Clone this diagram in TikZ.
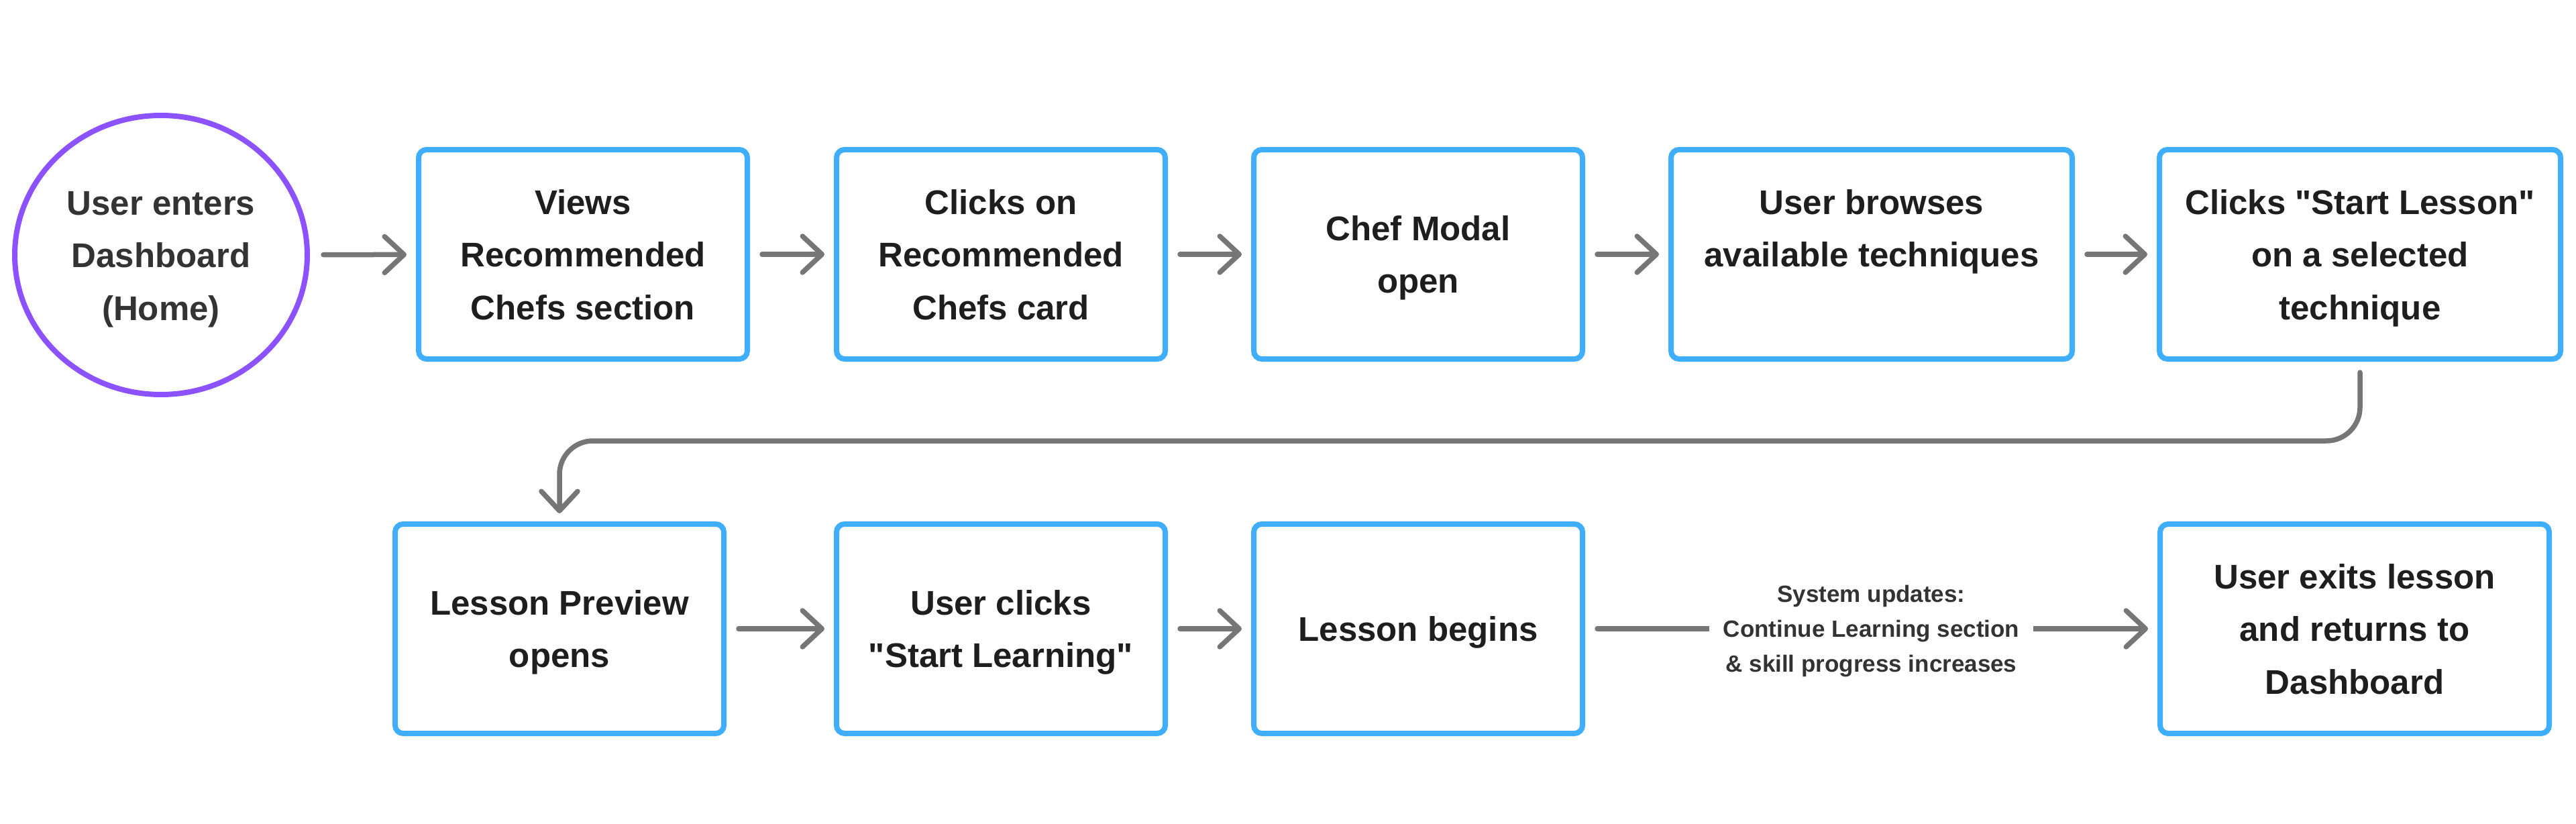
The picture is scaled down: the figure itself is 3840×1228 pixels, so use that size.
\documentclass[tikz,border=0pt]{standalone}
\usepackage{fontspec}
\newfontfamily\uisans{Liberation Sans}
\usetikzlibrary{arrows.meta,shapes.geometric}
\definecolor{boxblue}{HTML}{40AEFF}
\definecolor{startpurple}{HTML}{8C52FF}
\definecolor{arrowgray}{HTML}{767676}
\definecolor{textdark}{HTML}{1E1E1E}
\definecolor{textmid}{HTML}{333333}
\newcommand\bstr{\rule[-11pt]{0pt}{59pt}}
\newcommand\lstr{\rule[-8pt]{0pt}{41pt}}
\begin{document}
\begin{tikzpicture}[x=1pt,y=-1pt,
  bigfont/.style={font=\uisans\fontsize{51pt}{78.5pt}\selectfont\bfseries},
  stepbox/.style={draw=boxblue, line width=8pt, rounded corners=12pt, fill=white,
    minimum width=490pt, minimum height=312pt, align=center, text=textdark,
    bigfont, inner sep=0pt},
  widebox/.style={stepbox, minimum width=598pt},
  startnode/.style={ellipse, draw=startpurple, line width=8pt, fill=white,
    minimum width=436pt, minimum height=416pt, align=center, text=textmid,
    bigfont, inner sep=0pt},
  flow/.style={draw=arrowgray, line width=7.5pt, line cap=round,
    -{Straight Barb[length=29pt,width=54pt,round]},
    shorten <=18pt, shorten >=14pt},
  lbl/.style={fill=white, text=textmid, font=\uisans\fontsize{35pt}{52pt}\selectfont\bfseries,
    align=center, inner xsep=21pt, inner ysep=0pt}
]
\fill[white] (0,0) rectangle (3840,1228);
\useasboundingbox (0,0) rectangle (3840,1228);

% top row
\node[startnode] (s) at (240,380) {User enters\bstr\\Dashboard\bstr\\(Home)\bstr};
\node[stepbox] (b1) at (869,379) {Views\bstr\\Recommended\bstr\\Chefs section\bstr};
\node[stepbox] (b2) at (1492,379) {Clicks on\bstr\\Recommended\bstr\\Chefs card\bstr};
\node[stepbox] (b3) at (2114,379) {Chef Modal\bstr\\open\bstr};
\node[widebox] (b4) at (2790,379) {User browses\bstr\\available techniques\bstr\\\bstr};
\node[widebox] (b5) at (3518,379) {Clicks "Start Lesson"\bstr\\on a selected\bstr\\technique\bstr};

% bottom row
\node[stepbox] (c1) at (834,937) {Lesson Preview\bstr\\opens\bstr};
\node[stepbox] (c2) at (1492,937) {User clicks\bstr\\"Start Learning"\bstr};
\node[stepbox] (c3) at (2114,937) {Lesson begins\bstr};
\node[stepbox, minimum width=580pt] (c4) at (3510,937) {User exits lesson\bstr\\and returns to\bstr\\Dashboard\bstr};

\coordinate (turn) at (0,657);

% connectors
\draw[flow, shorten <=20pt] (s) -- (b1);
\draw[flow] (b1) -- (b2);
\draw[flow] (b2) -- (b3);
\draw[flow] (b3) -- (b4);
\draw[flow] (b4) -- (b5);
\draw[flow, rounded corners=50pt, shorten <=16pt, shorten >=12pt]
  (b5.south) -- (b5.south |- turn) -- (c1.north |- turn) -- (c1.north);
\draw[flow] (c1) -- (c2);
\draw[flow] (c2) -- (c3);
\draw[flow] (c3) -- node[lbl] {System updates:\lstr\\Continue Learning section\lstr\\\& skill progress increases\lstr} (c4);
\end{tikzpicture}
\end{document}
